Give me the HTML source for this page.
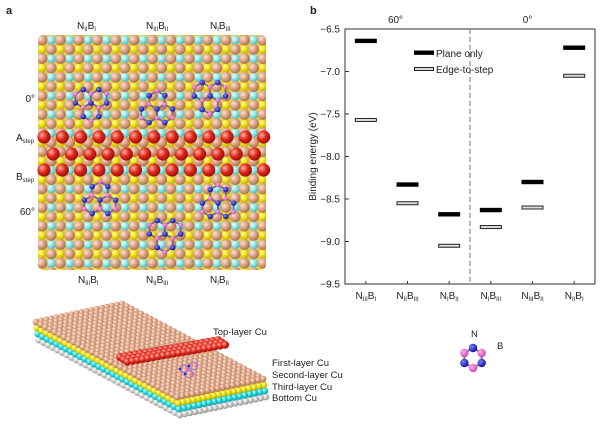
<!DOCTYPE html>
<html><head><meta charset="utf-8">
<style>
body{margin:0;background:#fff;}
svg text{font-family:"Liberation Sans",sans-serif;}
</style></head>
<body>
<svg id="fig" width="600" height="428" viewBox="0 0 600 428" xmlns="http://www.w3.org/2000/svg">
<defs>
<radialGradient id="gTan" cx="35%" cy="35%" r="70%"><stop offset="0" stop-color="#fbe3d3"/><stop offset="0.5" stop-color="#dca283"/><stop offset="1" stop-color="#a86a4c"/></radialGradient>
<radialGradient id="gCyan" cx="35%" cy="35%" r="70%"><stop offset="0" stop-color="#e9ffff"/><stop offset="0.5" stop-color="#8ee6e6"/><stop offset="1" stop-color="#3bb5b8"/></radialGradient>
<radialGradient id="gCyan2" cx="35%" cy="35%" r="70%"><stop offset="0" stop-color="#c8ffff"/><stop offset="0.5" stop-color="#22d8de"/><stop offset="1" stop-color="#0a9aa0"/></radialGradient>
<radialGradient id="gYel" cx="35%" cy="35%" r="70%"><stop offset="0" stop-color="#ffffb0"/><stop offset="0.5" stop-color="#f0e010"/><stop offset="1" stop-color="#b8a800"/></radialGradient>
<radialGradient id="gRed" cx="35%" cy="35%" r="70%"><stop offset="0" stop-color="#ffb0a0"/><stop offset="0.5" stop-color="#e0281c"/><stop offset="1" stop-color="#980a06"/></radialGradient>
<radialGradient id="gGray" cx="35%" cy="35%" r="70%"><stop offset="0" stop-color="#ffffff"/><stop offset="0.5" stop-color="#cfcfcf"/><stop offset="1" stop-color="#8a8a8a"/></radialGradient>
<radialGradient id="gN" cx="35%" cy="35%" r="70%"><stop offset="0" stop-color="#8080ff"/><stop offset="1" stop-color="#0a0a9a"/></radialGradient>
<radialGradient id="gB" cx="35%" cy="35%" r="70%"><stop offset="0" stop-color="#ffb0f0"/><stop offset="1" stop-color="#d040b0"/></radialGradient>
<clipPath id="gridClip"><rect x="38" y="35" width="228" height="235" rx="5"/></clipPath>
</defs>
<g id="panelA">
  <g clip-path="url(#gridClip)">
    <rect x="38" y="35" width="228" height="235" fill="#e0d050"/>
    <g id="lattice"></g>
  </g>
  <g id="steps"></g>
  <g id="mols"></g>
</g>
<g id="slab"></g>
<g id="chart"></g>
<g id="labels" font-size="10" fill="#222">
  <text x="6" y="14" font-size="11" font-weight="bold">a</text>
  <text x="310" y="14" font-size="11" font-weight="bold">b</text>
  <text x="77" y="29">N<tspan font-size="6" dy="2">II</tspan><tspan dy="-2">B</tspan><tspan font-size="6" dy="2">I</tspan></text>
  <text x="146" y="29">N<tspan font-size="6" dy="2">III</tspan><tspan dy="-2">B</tspan><tspan font-size="6" dy="2">II</tspan></text>
  <text x="210" y="29">N<tspan font-size="6" dy="2">I</tspan><tspan dy="-2">B</tspan><tspan font-size="6" dy="2">III</tspan></text>
  <text x="78" y="283">N<tspan font-size="6" dy="2">III</tspan><tspan dy="-2">B</tspan><tspan font-size="6" dy="2">I</tspan></text>
  <text x="146" y="283">N<tspan font-size="6" dy="2">II</tspan><tspan dy="-2">B</tspan><tspan font-size="6" dy="2">III</tspan></text>
  <text x="210" y="283">N<tspan font-size="6" dy="2">I</tspan><tspan dy="-2">B</tspan><tspan font-size="6" dy="2">II</tspan></text>
  <text x="35" y="102" text-anchor="end">0°</text>
  <text x="16" y="141">A<tspan font-size="6" dy="2">step</tspan></text>
  <text x="16" y="180">B<tspan font-size="6" dy="2">step</tspan></text>
  <text x="35" y="215" text-anchor="end">60°</text>
  <text x="213" y="335" font-size="9.5">Top-layer Cu</text>
  <text x="272" y="366" font-size="9.5">First-layer Cu</text>
  <text x="272" y="378" font-size="9.5">Second-layer Cu</text>
  <text x="272" y="390" font-size="9.5">Third-layer Cu</text>
  <text x="272" y="401" font-size="9.5">Bottom Cu</text>
  <text x="471" y="337" font-size="9.5">N</text>
  <text x="497" y="349" font-size="9.5">B</text>
</g>
<g id="hbn"></g>
</svg>
<script>
const NS="http://www.w3.org/2000/svg";
function mk(tag,attrs,parent){const e=document.createElementNS(NS,tag);for(const k in attrs)e.setAttribute(k,attrs[k]);parent.appendChild(e);return e;}

// ---- Panel a lattice ----
const lat=document.getElementById('lattice');
const rowDy=9.3, colDx=9.2;
for(let j=0;j<26;j++){
  const y=40+j*rowDy;
  const other=(j%3===0)?'url(#gCyan)':(j%3===1?'url(#gYel)':'url(#gCyan)');
  for(let i=0;i<26;i++){
    const x=42+i*colDx;
    const isTan=((i+j)%2===0);
    const a=mk('circle',{cx:x,cy:y,r:isTan?5.4:4.6,fill:isTan?'url(#gTan)':(j%2===0?'url(#gCyan)':'url(#gYel)')},lat);
    
    
  }
}
// draw tan atoms on top for depth
Array.from(lat.querySelectorAll('circle')).filter(c=>c.getAttribute('fill')==='url(#gTan)').forEach(c=>lat.appendChild(c));

const st=document.getElementById('steps');
[[137,0],[154,9.15],[170,0]].forEach(([y,o])=>{
  for(let x=44+o;x<268;x+=18.3){
    const a=mk('circle',{cx:x,cy:y,r:6.6,fill:'url(#gRed)'},st);
    
    
  }
});
// hBN clusters (phenalene-like, 13 atoms)
const mols=document.getElementById('mols');
const molCenters=[[91,103,90],[157,109,-90],[210,96,90],[100,200,-90],[165,234,90],[218,203,-90]];
molCenters.forEach(([cx,cy,phi0])=>{
  const g=mk('g',{},mols);
  
  
  const L=9;
  const atoms=[];
  for(let h=0;h<3;h++){
    const phi=(phi0+120*h)*Math.PI/180;
    const rx=cx+Math.cos(phi)*L, ry=cy+Math.sin(phi)*L;
    const pts=[];
    for(let k=0;k<6;k++){
      const a=phi+Math.PI+k*Math.PI/3;
      const p=[rx+Math.cos(a)*L, ry+Math.sin(a)*L, k%2===0];
      pts.push(p);
      if(!atoms.some(q=>Math.hypot(q[0]-p[0],q[1]-p[1])<1))atoms.push(p);
    }
    const pg=mk('polygon',{points:pts.map(p=>p[0].toFixed(1)+','+p[1].toFixed(1)).join(' '),fill:'none',stroke:'#7a6a80','stroke-width':1.8},g);
    
    
  }
  atoms.forEach(p=>{
    const isN=p[2];
    const a=mk('circle',{cx:p[0].toFixed(1),cy:p[1].toFixed(1),r:isN?2.8:2.3,fill:isN?'url(#gN)':'url(#gB)'},g);
    
    
  });
});

// ---- 3D slab ----
const slab=document.getElementById('slab');
const O=[36,322], A=[86/17,-18/17], B=[141/30,75/30];
const layers=[[18,'url(#gGray)'],[12,'url(#gCyan2)'],[6,'url(#gYel)'],[0,'url(#gTan)']];
layers.forEach(([off,fill])=>{
  for(let i=17;i>=0;i--){
    for(let j=0;j<=30;j++){
      const x=O[0]+i*A[0]+j*B[0]+off*0.15, y=O[1]+i*A[1]+j*B[1]+off;
      const a=mk('circle',{cx:x.toFixed(1),cy:y.toFixed(1),r:3.4,fill:fill},slab);
      
      
    }
  }
});
for(let i=0;i<3;i++){
  for(let j=0;j<20;j++){
    const bx=120+j*(98/19)+i*3.6, by=357-j*(17/19)+i*2.4;
    const a=mk('circle',{cx:bx.toFixed(1),cy:by.toFixed(1),r:3.9,fill:'url(#gRed)'},slab);
    
    
  }
}
const smol=mk('g',{},slab);


[[184,369],[193,366],[189,374]].forEach(([x,y])=>{
  mk('ellipse',{cx:x,cy:y,rx:4.5,ry:3.5,fill:'none',stroke:'#a070e0','stroke-width':1},smol);
  mk('circle',{cx:x-4,cy:y,r:1.4,fill:'#3030c0'},smol);mk('circle',{cx:x+4,cy:y,r:1.4,fill:'#e060d0'},smol);
});

// ---- hBN legend ring ----
const hb=document.getElementById('hbn');
const hc=[473,358], hr=10;
const hpts=[];for(let v=0;v<6;v++){const a=-Math.PI/2+v*Math.PI/3;hpts.push([hc[0]+Math.cos(a)*hr,hc[1]+Math.sin(a)*hr]);}
mk('polygon',{points:hpts.map(p=>p.join(',')).join(' '),fill:'none',stroke:'#777','stroke-width':2},hb);
const hcols=['url(#gN)','url(#gB)','url(#gN)','url(#gB)','url(#gN)','url(#gB)'];
hpts.forEach((p,v)=>{const a=mk('circle',{cx:p[0],cy:p[1],r:4.2,fill:hcols[v]},hb);
  
  });

// ---- Chart b ----
const categories=['NIIIBI','NIIBIII','NIBII','NIBIII','NIIIBII','NIIBI'];
const catN=['III','II','I','I','III','II'];
const catB=['I','III','II','III','II','I'];
const planeOnly=[-6.64,-8.33,-8.68,-8.63,-8.30,-6.72];
const edgeToStep=[-7.57,-8.55,-9.05,-8.83,-8.60,-7.05];
const yTicks=[-6.5,-7.0,-7.5,-8.0,-8.5,-9.0,-9.5];
const groupLabels=['60°','0°'];

const ch=document.getElementById('chart');
const PL=345,PR=595,PT=29,PB=284,yMin=-9.5,yMax=-6.5;
const yS=v=>PT+(yMax-v)/(yMax-yMin)*(PB-PT);
const step=(PR-PL)/categories.length;
const xS=i=>PL+step*(i+0.5);

const frame=mk('rect',{x:PL,y:PT,width:PR-PL,height:PB-PT,fill:'none',stroke:'#333','stroke-width':1},ch);


const dl=mk('line',{x1:(PL+PR)/2,x2:(PL+PR)/2,y1:PT,y2:PB,stroke:'#777','stroke-dasharray':'5,3'},ch);


yTicks.forEach(t=>{
  const y=yS(t);
  const tk=mk('line',{x1:PL,x2:PL+4,y1:y,y2:y,stroke:'#333'},ch);
  
  
  const lb=mk('text',{x:PL-5,y:y+3.5,'text-anchor':'end','font-size':10,fill:'#222'},ch);
  lb.textContent=t.toFixed(1).replace('-','−');
  
  
});
categories.forEach((c,i)=>{
  const t=mk('text',{x:xS(i),y:299,'text-anchor':'middle','font-size':10,fill:'#222'},ch);
  t.innerHTML='N<tspan font-size="6" dy="2">'+catN[i]+'</tspan><tspan dy="-2">B</tspan><tspan font-size="6" dy="2">'+catB[i]+'</tspan>';
  
  
  const tk=mk('line',{x1:xS(i),x2:xS(i),y1:PB,y2:PB-3,stroke:'#333'},ch);
  
  
});
groupLabels.forEach((g,k)=>{
  const t=mk('text',{x:PL+(PR-PL)*(0.25+0.5*k)-(k?5:12),y:23,'text-anchor':'middle','font-size':10,fill:'#222'},ch);
  t.textContent=g;
  
  
});
const yt=mk('text',{x:316,y:(PT+PB)/2,'text-anchor':'middle','font-size':10,fill:'#222',transform:'rotate(-90 316 '+((PT+PB)/2)+')'},ch);
yt.textContent='Binding energy (eV)';


const bw=22;
planeOnly.forEach((v,i)=>{
  const r=mk('rect',{x:xS(i)-bw/2,y:yS(v)-2.2,width:bw,height:4.4,fill:'#000'},ch);
  
  
});
edgeToStep.forEach((v,i)=>{
  const r=mk('rect',{x:xS(i)-bw/2+0.5,y:yS(v)-1.5,width:bw-1,height:3,fill:'#ddd',stroke:'#222','stroke-width':1},ch);
  
  
});
const lg=mk('g',{},ch);


const l1=mk('rect',{x:414,y:50.5,width:20,height:4.4,fill:'#000'},lg);


const t1=mk('text',{x:436,y:57,'font-size':10,fill:'#222'},lg);t1.textContent='Plane only';


const l2=mk('rect',{x:414.5,y:67.5,width:19,height:3,fill:'#ddd',stroke:'#222'},lg);


const t2=mk('text',{x:436,y:73,'font-size':10,fill:'#222'},lg);t2.textContent='Edge-to-step';


</script>
</body></html>
